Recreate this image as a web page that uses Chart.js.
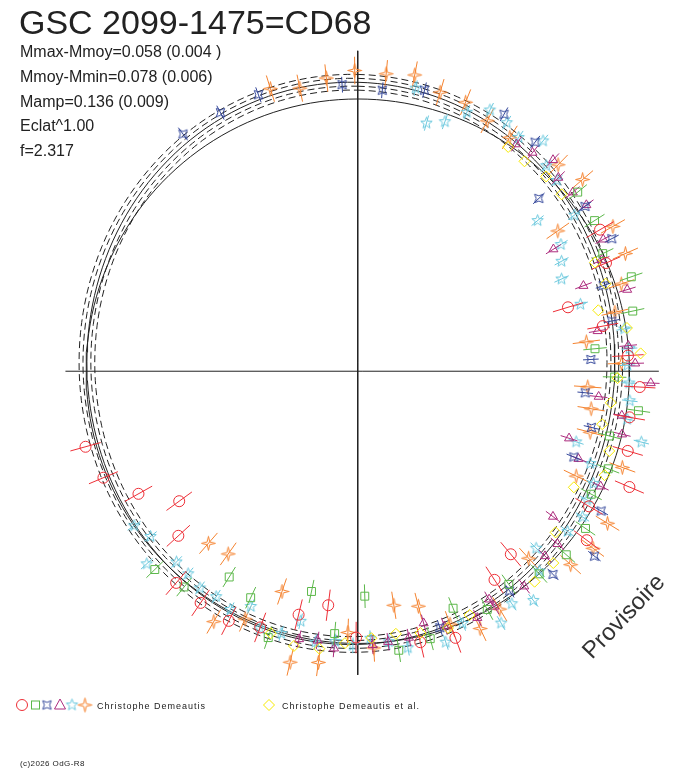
<!DOCTYPE html>
<html>
<head>
<meta charset="utf-8">
<title>GSC 2099-1475=CD68</title>
<script src="https://cdn.jsdelivr.net/npm/chart.js@4.4.1/dist/chart.umd.min.js"></script>
<style>
  html, body { margin: 0; padding: 0; background: #fff; }
  canvas { display: block; }
</style>
</head>
<body>
<canvas id="phaseChart" width="688" height="768"></canvas>
<script>
// Phase (0..1, clockwise from the top) and polar radius of every measure, one pair of arrays per observer symbol
var redPhase = [0.707, 0.687, 0.669, 0.650, 0.632, 0.613, 0.595, 0.576, 0.558, 0.538, 0.520, 0.501, 0.4638, 0.444, 0.4075, 0.389, 0.351, 0.334, 0.314, 0.2956, 0.2767, 0.2589, 0.2408, 0.2211, 0.2031, 0.1847, 0.166];
var redRad = [288, 281, 256, 225, 248, 284, 285, 286, 279, 255, 240, 271, 283, 289, 254, 243, 290, 273, 301, 287, 281, 288, 276, 254, 224, 276, 286];

var greenPhase = [0.589, 0.5704, 0.533, 0.495, 0.439, 0.627, 0.608, 0.5517, 0.514, 0.4767, 0.4578, 0.4206, 0.4017, 0.3836, 0.3647, 0.346, 0.327, 0.309, 0.290, 0.2722, 0.2536, 0.235, 0.2158, 0.1972, 0.1789, 0.160, 0.1414];
var greenRad = [247, 255, 229, 229, 260, 289, 282, 286, 268, 287, 282, 276, 266, 277, 283, 282, 269, 274, 265, 289, 262, 243, 287, 295, 277, 286, 289];

var bluePhase = [0.8988, 0.9222, 0.945, 0.9913, 0.0139, 0.0372, 0.0825, 0.105, 0.1289, 0.1503, 0.1736, 0.1967, 0.219, 0.242, 0.265, 0.2875, 0.31, 0.3328, 0.3554, 0.378, 0.4036, 0.4506];
var blueRad = [300, 298, 299, 292, 287, 294, 301, 295, 255, 286, 292, 265, 264, 238, 233, 245, 237, 286, 306, 287, 272, 274];

var purplePhase = [0.0972, 0.1075, 0.1189, 0.128, 0.1397, 0.1501, 0.1717, 0.1614, 0.182, 0.1925, 0.2033, 0.2236, 0.235, 0.2455, 0.2564, 0.2667, 0.2764, 0.2872, 0.2988, 0.31, 0.3203, 0.3517, 0.3633, 0.3738, 0.395, 0.4167, 0.4161, 0.428, 0.4478, 0.4592, 0.4697, 0.4822, 0.4914, 0.5136, 0.5236, 0.5344];
var purpleRad = [282, 285, 293, 284, 285, 288, 284, 235, 273, 246, 287, 248, 277, 283, 299, 247, 273, 277, 226, 242, 274, 248, 269, 268, 277, 268, 277, 279, 274, 265, 276, 277, 279, 283, 277, 279];

var cyanPhase = [0.0322, 0.0431, 0.0536, 0.0636, 0.0747, 0.0861, 0.0961, 0.108, 0.1183, 0.1286, 0.1508, 0.1392, 0.1614, 0.1714, 0.1825, 0.2036, 0.225, 0.2368, 0.2465, 0.2569, 0.2672, 0.278, 0.2889, 0.2997, 0.31, 0.3206, 0.3313, 0.3414, 0.3536, 0.3742, 0.3824, 0.4067, 0.3958, 0.4175, 0.4372, 0.4499, 0.4714, 0.4817, 0.4925, 0.5028, 0.5133, 0.5247, 0.5358, 0.5453, 0.558, 0.5783, 0.568, 0.5894, 0.6003, 0.6111, 0.6211, 0.6324, 0.643, 0.6539];
var cyanRad = [294, 262, 269, 286, 298, 295, 289, 301, 284, 281, 272, 239, 244, 236, 228, 237, 275, 278, 275, 277, 279, 279, 298, 234, 255, 266, 268, 273, 269, 256, 275, 284, 294, 295, 278, 290, 286, 277, 272, 279, 276, 279, 261, 278, 280, 275, 263, 271, 273, 269, 268, 291, 270, 277];

var orangePhase = [0.9522, 0.9678, 0.983, 0.9984, 0.0152, 0.0303, 0.0458, 0.0608, 0.0761, 0.0919, 0.1228, 0.1378, 0.168, 0.1528, 0.1842, 0.1992, 0.2142, 0.2297, 0.2453, 0.2608, 0.2753, 0.2908, 0.3054, 0.3211, 0.3369, 0.3525, 0.382, 0.3672, 0.4142, 0.4292, 0.4442, 0.4597, 0.4756, 0.4908, 0.506, 0.5214, 0.5364, 0.5528, 0.568, 0.5832, 0.6139, 0.5983];
var orangeRad = [301, 294, 300, 306, 304, 307, 296, 295, 287, 284, 293, 301, 299, 249, 298, 283, 269, 235, 269, 235, 241, 245, 287, 247, 298, 300, 258, 293, 282, 290, 274, 247, 241, 282, 266, 299, 304, 237, 277, 294, 232, 228];

var yellowPhase = [0.0942, 0.107, 0.1225, 0.1364, 0.1817, 0.1961, 0.2106, 0.2247, 0.24, 0.2542, 0.2697, 0.2839, 0.2988, 0.3133, 0.3283, 0.3586, 0.3733, 0.3886, 0.4314, 0.4461, 0.4625, 0.477, 0.4918, 0.5075, 0.5219, 0.5364, 0.5511];
var yellowRad = [275, 273, 276, 275, 266, 268, 253, 278, 289, 265, 260, 255, 269, 273, 250, 260, 279, 280, 273, 277, 274, 270, 272, 277, 285, 287, 281];

// half length of the radial error bar for each series (same order as below)
var errLen = [16, 12, 8, 9, 8, 14, 0];

// mean circle and fitted curve: c + a1 cos t + b1 sin t + a2 cos 2t + b2 sin 2t
var refRadius = 277;
var fitCoef = [277.5, 8, -7, 8.5, 0];
var bandOffsets = [-8, -4, 4, 8];

var titleText = 'GSC 2099-1475=CD68';
var statLines = ['Mmax-Mmoy=0.058 (0.004 )', 'Mmoy-Mmin=0.078 (0.006)', 'Mamp=0.136 (0.009)', 'Eclat^1.00', 'f=2.317'];
var observerNames = ['Christophe Demeautis', 'Christophe Demeautis et al.'];

var colors = {
  red: '#ee2f37', green: '#5cb84a', blue: '#34479b', purple: '#ad2c7e',
  cyan: '#6cc9de', orange: '#f5832f', yellow: '#f7ea00', ink: '#222222'
};

function toXY(ph, r) {
  var a = ph * 2 * Math.PI;
  return { x: r * Math.sin(a), y: r * Math.cos(a), ph: ph, r: r };
}

function series(ph, rad) {
  var out = [];
  for (var i = 0; i < Math.min(ph.length, rad.length); i++) out.push(toXY(ph[i], rad[i]));
  return out;
}

function fitRadius(t) {
  return fitCoef[0] + fitCoef[1] * Math.cos(t) + fitCoef[2] * Math.sin(t) +
         fitCoef[3] * Math.cos(2 * t) + fitCoef[4] * Math.sin(2 * t);
}

function curve(offset, useFit) {
  var pts = [];
  for (var d = 0; d <= 360; d += 2) {
    var t = d * Math.PI / 180;
    var r = useFit ? fitRadius(t) + offset : refRadius;
    pts.push({ x: r * Math.sin(t), y: r * Math.cos(t) });
  }
  return pts;
}

// small outline symbols drawn on canvases, used as point styles
function symbol(kind, color) {
  var s = 17;
  var c = document.createElement('canvas');
  c.width = s; c.height = s;
  var g = c.getContext('2d');
  g.strokeStyle = color;
  g.lineWidth = 1;
  g.translate(s / 2, s / 2);
  g.beginPath();
  var n, ro, ri, start;
  if (kind === 'star5') { n = 5; ro = 6; ri = 2.5; start = -Math.PI / 2; }
  else if (kind === 'star4') { n = 4; ro = 7; ri = 1.9; start = -Math.PI / 2; }
  else { n = 4; ro = 6; ri = 2.6; start = -Math.PI / 4; }
  for (var i = 0; i < 2 * n; i++) {
    var r = i % 2 ? ri : ro;
    var a = start + i * Math.PI / n;
    if (i === 0) g.moveTo(r * Math.cos(a), r * Math.sin(a));
    else g.lineTo(r * Math.cos(a), r * Math.sin(a));
  }
  g.closePath();
  g.stroke();
  return c;
}

var blueSym = symbol('astro', colors.blue);
var cyanSym = symbol('star5', colors.cyan);
var orangeSym = symbol('star4', colors.orange);

function pointSet(label, data, color, style, radius, err) {
  return {
    type: 'scatter', label: label, data: data,
    pointStyle: style, pointRadius: radius, pointHoverRadius: radius,
    borderColor: color, pointBorderColor: color,
    backgroundColor: 'rgba(0,0,0,0)', pointBackgroundColor: 'rgba(0,0,0,0)',
    pointBorderWidth: 1, err: err
  };
}

function lineSet(data, dash) {
  return {
    type: 'line', data: data, borderColor: colors.ink, borderWidth: 1,
    borderDash: dash, pointRadius: 0, fill: false, tension: 0
  };
}

var datasets = [
  pointSet('yellow', series(yellowPhase, yellowRad), colors.yellow, 'rectRot', 5.5, errLen[6]),
  pointSet('red', series(redPhase, redRad), colors.red, 'circle', 5.5, errLen[0]),
  pointSet('green', series(greenPhase, greenRad), colors.green, 'rect', 5.6, errLen[1]),
  pointSet('blue', series(bluePhase, blueRad), colors.blue, blueSym, 5, errLen[2]),
  pointSet('purple', series(purplePhase, purpleRad), colors.purple, 'triangle', 5.2, errLen[3]),
  pointSet('cyan', series(cyanPhase, cyanRad), colors.cyan, cyanSym, 5, errLen[4]),
  pointSet('orange', series(orangePhase, orangeRad), colors.orange, orangeSym, 5, errLen[5]),
  lineSet(curve(0, false), []),
  lineSet(curve(0, true), [])
];
bandOffsets.forEach(function (o) { datasets.push(lineSet(curve(o, true), [7, 4])); });
// the two axes through the centre
datasets.push(lineSet([{ x: -298, y: 0 }, { x: 307, y: 0 }], []));
datasets.push(lineSet([{ x: 0, y: 326 }, { x: 0, y: -309 }], []));

// radial error bars under each symbol
var radialErr = {
  id: 'radialErr',
  beforeDatasetDraw: function (chart, args) {
    var ds = chart.data.datasets[args.index];
    if (!ds.err) return;
    var ctx = chart.ctx, sx = chart.scales.x, sy = chart.scales.y;
    ctx.save();
    ctx.strokeStyle = ds.borderColor;
    ctx.lineWidth = 1;
    ctx.beginPath();
    ds.data.forEach(function (p) {
      var a = toXY(p.ph, p.r - ds.err), b = toXY(p.ph, p.r + ds.err);
      ctx.moveTo(sx.getPixelForValue(a.x), sy.getPixelForValue(a.y));
      ctx.lineTo(sx.getPixelForValue(b.x), sy.getPixelForValue(b.y));
    });
    ctx.stroke();
    ctx.restore();
  }
};

// white page, title, statistics, observer legend and notes
var pageText = {
  id: 'pageText',
  beforeDraw: function (chart) {
    var ctx = chart.ctx;
    ctx.save();
    ctx.fillStyle = '#fff';
    ctx.fillRect(0, 0, chart.width, chart.height);
    ctx.restore();
  },
  afterDraw: function (chart) {
    var ctx = chart.ctx;
    ctx.save();
    ctx.fillStyle = colors.ink;
    ctx.textBaseline = 'alphabetic';
    ctx.font = '34px "Liberation Sans", Arial, sans-serif';
    ctx.fillText(titleText, 19, 34);
    ctx.font = '16px "Liberation Sans", Arial, sans-serif';
    statLines.forEach(function (s, i) { ctx.fillText(s, 20, 57 + i * 24.8); });

    // legend symbols
    var ly = 705;
    ctx.lineWidth = 1;
    ctx.strokeStyle = colors.red;
    ctx.beginPath(); ctx.arc(22, ly, 5.5, 0, 2 * Math.PI); ctx.stroke();
    ctx.strokeStyle = colors.green;
    ctx.strokeRect(31.5, ly - 4, 8, 8);
    ctx.drawImage(blueSym, 47 - blueSym.width / 2, ly - blueSym.height / 2);
    ctx.strokeStyle = colors.purple;
    ctx.beginPath(); ctx.moveTo(60, ly - 6); ctx.lineTo(65.5, ly + 4); ctx.lineTo(54.5, ly + 4); ctx.closePath(); ctx.stroke();
    ctx.drawImage(cyanSym, 72 - cyanSym.width / 2, ly - cyanSym.height / 2);
    ctx.drawImage(orangeSym, 85 - orangeSym.width / 2, ly - orangeSym.height / 2);
    ctx.strokeStyle = colors.yellow;
    ctx.beginPath(); ctx.moveTo(269, ly - 5.5); ctx.lineTo(274.5, ly); ctx.lineTo(269, ly + 5.5); ctx.lineTo(263.5, ly); ctx.closePath(); ctx.stroke();

    ctx.font = '9px "Liberation Sans", Arial, sans-serif';
    if ('letterSpacing' in ctx) ctx.letterSpacing = '1px';
    ctx.fillText(observerNames[0], 97, 709);
    ctx.fillText(observerNames[1], 282, 709);
    ctx.font = '8px "Liberation Sans", Arial, sans-serif';
    if ('letterSpacing' in ctx) ctx.letterSpacing = '0.4px';
    ctx.fillText('(c)2026 OdG-R8', 20, 766);
    if ('letterSpacing' in ctx) ctx.letterSpacing = '0px';

    ctx.translate(592, 660);
    ctx.rotate(-Math.PI / 4 - 0.02);
    ctx.font = '24px "Liberation Sans", Arial, sans-serif';
    ctx.fillStyle = '#333';
    ctx.fillText('Provisoire', 0, 0);
    ctx.restore();
  }
};

var ctx = document.getElementById('phaseChart').getContext('2d');
var myChart = new Chart(ctx, {
  type: 'scatter',
  data: { datasets: datasets },
  options: {
    responsive: false,
    animation: false,
    events: [],
    layout: { padding: 0 },
    plugins: { legend: { display: false }, tooltip: { enabled: false }, title: { display: false } },
    scales: {
      x: { type: 'linear', display: false, min: -358, max: 330 },
      y: { type: 'linear', display: false, min: -397, max: 371 }
    }
  },
  plugins: [radialErr, pageText]
});
</script>
</body>
</html>
